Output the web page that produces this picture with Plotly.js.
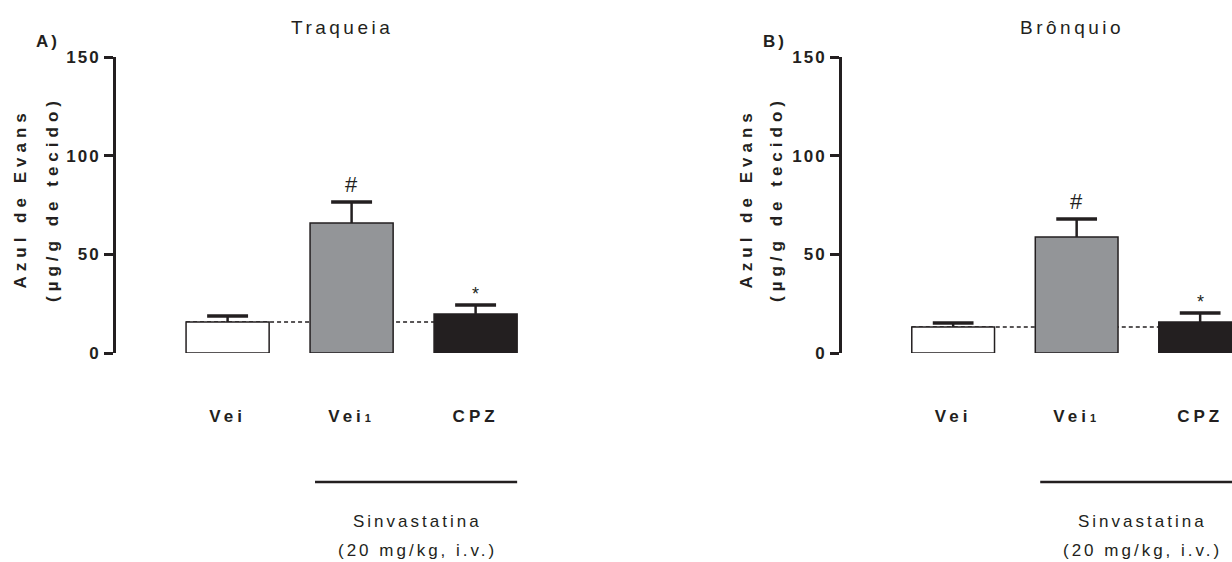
<!DOCTYPE html>
<html><head><meta charset="utf-8">
<script src="https://cdn.plot.ly/plotly-3.0.1.min.js"></script>
<style>
body{margin:0;background:#fff;}
.xtick text, .x2tick text {letter-spacing:4px;}
.ytick text, .y2tick text {letter-spacing:2px;}
</style>
</head><body><div id="chart" style="width:1232px;height:562px"></div>
<script>
// ---- data ----
const groupLabels = ['Vei', 'Vei<span style="font-size:11px">1</span>', 'CPZ'];
const traqueiaMean = [15.7, 65.9, 19.8];
const traqueiaSem  = [3.0, 10.6, 4.5];
const bronquioMean = [13.2, 58.8, 15.7];
const bronquioSem  = [2.0, 9.1, 4.6];
const significance = ['', '#', '*'];
const yTickVals = [0, 50, 100, 150];
const panelTitles = ['Traqueia', 'Brônquio'];
const panelLetters = ['A)', 'B)'];
const yTitleLines = ['Azul de Evans', '(µg/g de tecido)'];
const treatmentLines = ['Sinvastatina', '(20 mg/kg, i.v.)'];

// ---- style ----
const W = 1232, H = 562;
const ink = '#231f20';
const barColors = ['#ffffff', '#939598', '#231f20'];
const font = 'Liberation Sans, Arial, Helvetica, sans-serif';
const barWidth = 0.67, capHalf = 0.165;
const pos = [0, 1, 2];

const panels = [
  {mean: traqueiaMean, sem: traqueiaSem, xa: 'x', ya: 'y', axisPx: 116, endPx: 640, unitPx: 124,
   titleX: 343, letterX: 48, yTitleX: [20, 52]},
  {mean: bronquioMean, sem: bronquioSem, xa: 'x2', ya: 'y2', axisPx: 842, endPx: 1232, unitPx: 123.5,
   titleX: 1072, letterX: 775, yTitleX: [746, 776]}
];
const yTop = 57, yBot = 353;
const py = v => 1 - v / H;

const traces = [], shapes = [], annotations = [], spacing = [];
function addAnn(a, ls) { annotations.push(a); spacing.push(ls); }

panels.forEach((p, k) => {
  traces.push({type: 'bar', x: pos, y: p.mean, width: barWidth, xaxis: p.xa, yaxis: p.ya,
    marker: {color: barColors, line: {color: ink, width: 1.5}}, hoverinfo: 'skip', showlegend: false});
  const sx = [], sy = [], cx = [], cy = [];
  pos.forEach((x, i) => {
    const top = p.mean[i] + p.sem[i];
    sx.push(x, x, null); sy.push(p.mean[i], top, null);
    cx.push(x - capHalf, x + capHalf, null); cy.push(top, top, null);
  });
  traces.push({type: 'scatter', mode: 'lines', x: sx, y: sy, xaxis: p.xa, yaxis: p.ya,
    line: {color: ink, width: 2.5}, hoverinfo: 'skip', showlegend: false});
  traces.push({type: 'scatter', mode: 'lines', x: cx, y: cy, xaxis: p.xa, yaxis: p.ya,
    line: {color: ink, width: 3.5}, hoverinfo: 'skip', showlegend: false});
  shapes.push({type: 'line', layer: 'below', xref: p.xa, yref: p.ya,
    x0: pos[0] - barWidth / 2, x1: pos[2] - barWidth / 2, y0: p.mean[0], y1: p.mean[0],
    line: {color: ink, width: 1.5, dash: '4px,3px'}});
  shapes.push({type: 'line', xref: p.xa, yref: 'paper',
    x0: pos[1] - 0.295, x1: pos[2] + barWidth / 2, y0: py(482), y1: py(482),
    line: {color: ink, width: 2.5}});
  pos.forEach((x, i) => {
    if (!significance[i]) return;
    const hash = significance[i] === '#';
    addAnn({xref: p.xa, yref: p.ya, x: x, y: p.mean[i] + p.sem[i],
      text: significance[i], showarrow: false, yanchor: 'bottom', yshift: hash ? 3 : -1,
      font: {family: font, size: hash ? 22 : 18, color: ink}}, 0);
  });
  treatmentLines.forEach((t, j) => {
    addAnn({xref: p.xa, yref: 'paper', x: 1.53, y: py(j === 0 ? 521 : 550),
      text: t, showarrow: false, xanchor: 'center', yanchor: 'middle',
      font: {family: font, size: 17, color: ink}}, 3);
  });
  addAnn({xref: 'paper', yref: 'paper', x: p.titleX / W, y: py(28), text: panelTitles[k],
    showarrow: false, xanchor: 'center', yanchor: 'middle', font: {family: font, size: 19, color: ink}}, 3.5);
  addAnn({xref: 'paper', yref: 'paper', x: p.letterX / W, y: py(42), text: panelLetters[k],
    showarrow: false, xanchor: 'center', yanchor: 'middle', font: {family: font, size: 17, color: ink, weight: 'bold'}}, 3);
  yTitleLines.forEach((t, j) => {
    addAnn({xref: 'paper', yref: 'paper', x: p.yTitleX[j] / W, y: py(199), text: t,
      textangle: -90, showarrow: false, xanchor: 'center', yanchor: 'middle',
      font: {family: font, size: 17, color: ink, weight: 'bold'}}, 5);
  });
});

// per-annotation letter spacing
const css = spacing.map((s, i) => `g.annotation[data-index="${i}"] text{letter-spacing:${s}px;}`).join('\n');
const st = document.createElement('style'); st.textContent = css; document.head.appendChild(st);

function xAxis(p, anchor) {
  return {domain: [p.axisPx / W, p.endPx / W], range: [-0.9, -0.9 + (p.endPx - p.axisPx) / p.unitPx],
    anchor: anchor, showline: false, showgrid: false, zeroline: false, ticks: '',
    tickmode: 'array', tickvals: pos, ticktext: groupLabels, ticklabelstandoff: 51,
    tickfont: {family: font, size: 17, color: ink, weight: 'bold'}, fixedrange: true};
}
function yAxis(anchor) {
  return {domain: [py(yBot), py(yTop)], range: [0, 150], anchor: anchor,
    showline: true, linewidth: 3, linecolor: ink, showgrid: false, zeroline: false,
    ticks: 'outside', ticklen: 9, tickwidth: 3, tickcolor: ink,
    tickmode: 'array', tickvals: yTickVals,
    tickfont: {family: font, size: 17, color: ink, weight: 'bold'}, fixedrange: true};
}

const layout = {
  width: W, height: H, margin: {l: 0, r: 0, t: 0, b: 0},
  paper_bgcolor: '#fff', plot_bgcolor: 'rgba(0,0,0,0)',
  showlegend: false, barmode: 'group',
  xaxis: xAxis(panels[0], 'y'), yaxis: yAxis('x'),
  xaxis2: xAxis(panels[1], 'y2'), yaxis2: yAxis('x2'),
  shapes: shapes, annotations: annotations
};
Plotly.newPlot('chart', traces, layout, {displayModeBar: false, staticPlot: true});
</script>
</body></html>
